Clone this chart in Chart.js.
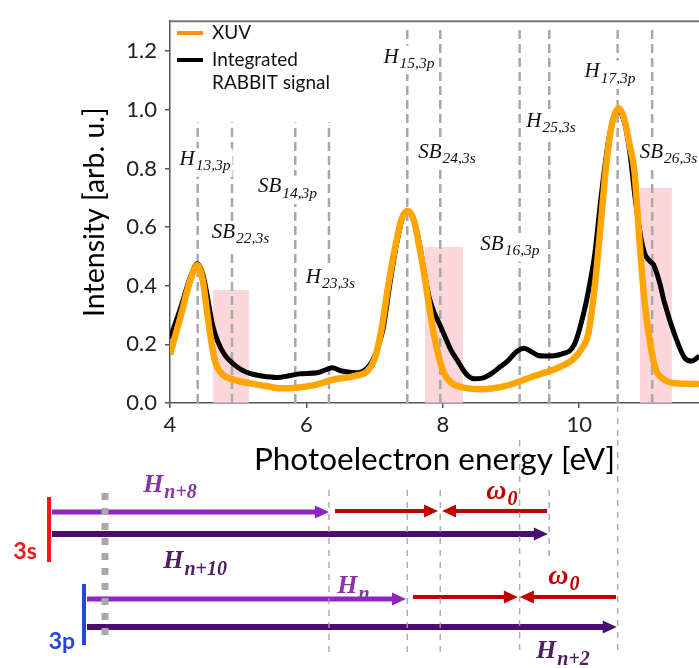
<!DOCTYPE html>
<html>
<head>
<meta charset="utf-8">
<script src="https://cdn.jsdelivr.net/npm/chart.js@4.4.1/dist/chart.umd.min.js"></script>
<style>
  html, body { margin: 0; padding: 0; background: #fff; }
  #wrap { position: relative; width: 699px; height: 668px; }
  #spec { position: absolute; left: 0; top: 0; }
  #scheme { position: absolute; left: 0; top: 440px; }
</style>
</head>
<body>
<div id="wrap">
  <canvas id="spec" width="699" height="482"></canvas>
  <canvas id="scheme" width="699" height="228"></canvas>
</div>
<script>
// ---- spectrum (eV, arb. u.) ----
const xuvEnergy = [4.00, 4.15, 4.30, 4.40, 4.48, 4.55, 4.59, 4.66, 4.74, 4.83, 5.00, 5.18, 5.40, 5.62, 5.85, 6.10, 6.40, 6.70, 6.90,
  7.00, 7.10, 7.20, 7.30, 7.40, 7.49, 7.58, 7.65, 7.72, 7.80, 7.87, 7.95, 8.02, 8.12, 8.26, 8.56, 8.95, 9.29, 9.69, 9.93,
  10.05, 10.13, 10.23, 10.32, 10.40, 10.48, 10.58, 10.66, 10.74, 10.81, 10.88, 10.96, 11.06, 11.13, 11.20, 11.40, 11.76];
const xuvIntensity = [0.165, 0.29, 0.42, 0.47, 0.42, 0.30, 0.233, 0.143, 0.105, 0.088, 0.075, 0.067, 0.058, 0.050, 0.052, 0.060, 0.080, 0.092, 0.110,
  0.15, 0.25, 0.40, 0.53, 0.63, 0.655, 0.62, 0.54, 0.45, 0.33, 0.233, 0.15, 0.10, 0.07, 0.055, 0.047, 0.060, 0.088, 0.120, 0.153,
  0.19, 0.233, 0.40, 0.62, 0.82, 0.95, 1.005, 0.97, 0.88, 0.79, 0.566, 0.343, 0.177, 0.11, 0.088, 0.067, 0.065];

const rabbitEnergy = [4.00, 4.15, 4.30, 4.40, 4.48, 4.55, 4.62, 4.70, 4.80, 4.93, 5.05, 5.18, 5.35, 5.57, 5.75, 5.91, 6.16, 6.30, 6.38,
  6.50, 6.75, 6.94, 7.05, 7.13, 7.22, 7.32, 7.42, 7.49, 7.58, 7.66, 7.74, 7.80, 7.87, 7.95, 8.02, 8.12, 8.22, 8.34, 8.46, 8.58,
  8.71, 8.85, 8.95, 9.08, 9.19, 9.30, 9.40, 9.49, 9.74, 9.93, 10.07, 10.15, 10.23, 10.32, 10.42, 10.50, 10.58, 10.66, 10.74,
  10.82, 10.90, 10.96, 11.03, 11.10, 11.18, 11.25, 11.40, 11.55, 11.65, 11.76];
const rabbitIntensity = [0.22, 0.32, 0.43, 0.475, 0.44, 0.36, 0.27, 0.21, 0.165, 0.133, 0.113, 0.10, 0.092, 0.087, 0.093, 0.10, 0.103, 0.115, 0.12,
  0.11, 0.103, 0.133, 0.19, 0.26, 0.40, 0.54, 0.64, 0.655, 0.62, 0.54, 0.43, 0.36, 0.31, 0.27, 0.233, 0.18, 0.143, 0.10, 0.083, 0.085,
  0.10, 0.125, 0.143, 0.175, 0.187, 0.175, 0.162, 0.16, 0.167, 0.20, 0.31, 0.40, 0.51, 0.70, 0.88, 0.97, 0.995, 0.96, 0.86,
  0.70, 0.57, 0.51, 0.485, 0.467, 0.41, 0.343, 0.233, 0.153, 0.143, 0.16];

// dashed guides at harmonic / sideband energies
const guideEnergy = [4.406, 4.909, 5.837, 6.331, 7.479, 7.963, 9.127, 9.561, 10.564, 11.07];
const guideTop = [0.957, 0.957, 0.957, 0.957, 1.279, 1.279, 1.279, 1.279, 1.279, 1.279];

// shaded sideband windows
const bandStart = [4.631, 7.739, 10.891];
const bandEnd = [5.158, 8.296, 11.36];
const bandHeight = [0.385, 0.532, 0.734];

// peak labels
const peakMain = ['H', 'SB', 'SB', 'H', 'H', 'SB', 'SB', 'H', 'H', 'SB'];
const peakSub = ['13,3p', '22,3s', '14,3p', '23,3s', '15,3p', '24,3s', '16,3p', '25,3s', '17,3p', '26,3s'];
const peakLabelE = [4.513, 5.034, 5.723, 6.353, 7.504, 8.062, 8.985, 9.587, 10.452, 11.309];
const peakLabelY = [0.834, 0.586, 0.741, 0.432, 1.184, 0.860, 0.545, 0.963, 1.133, 0.860];

// ---- scheme below the spectrum ----
const levelName = ['3s', '3p'];
const levelColor = ['#f01818', '#2446dc'];
const levelEnergy = [2.226, 2.739];
const levelTop = [6.84, 3.36];
const levelBottom = [4.24, 0.92];
const levelLabelE = [1.874, 2.416];
const levelLabelY = [4.66, 1.06];

const arrowFrom = [2.27, 2.27, 6.42, 9.528, 2.783, 7.563, 10.54, 2.783];
const arrowTo = [6.14, 9.35, 7.74, 8.18, 7.27, 8.91, 9.32, 10.36];
const arrowRow = [6.24, 5.36, 6.28, 6.28, 2.76, 2.84, 2.84, 1.64];
const arrowKind = ['hl', 'hd', 'ir', 'ir', 'hl', 'ir', 'ir', 'hd'];

const schemeGuideE = [6.331, 7.479, 7.963, 9.127, 9.561, 10.564];
const schemeGuideTop = [7.12, 7.12, 7.12, 9.12, 7.12, 9.12];
const schemeGuideBottom = [0.6, 0.6, 0.6, 0.72, 4.32, 0.72];

const schemeMain = ['H', 'H', 'ω', 'H', 'ω', 'H'];
const schemeSub = ['n+8', 'n+10', '0', 'n', '0', 'n+2'];
const schemeLabelE = [4.0, 4.367, 8.868, 6.69, 9.777, 9.762];
const schemeLabelY = [7.38, 4.32, 7.02, 3.32, 3.62, 0.72];
const schemeLabelKind = ['hl', 'hd', 'ir', 'hl', 'ir', 'hd'];

const kindColor = { hl: '#8c25c4', hd: '#4c0c72', ir: '#c00000' };
const kindWidth = { hl: 5, hd: 6, ir: 4 };
const labelColor = { hl: '#8a35a6', hd: '#4e2163', ir: '#c00000' };

const X_MIN = 4, X_MAX = 11.757, PLOT_LEFT = 170, W = 699;

function pts(xs, ys) { return xs.map((x, i) => ({ x, y: ys[i] })); }

function drawSubLabel(ctx, main, sub, cx, cy, size, subSize, style, color, bg) {
  const mf = style + ' ' + size + 'px "Liberation Serif"';
  const sf = style + ' ' + subSize + 'px "Liberation Serif"';
  ctx.save();
  ctx.font = mf; const w1 = ctx.measureText(main).width;
  ctx.font = sf; const w2 = ctx.measureText(sub).width;
  const x0 = cx - (w1 + w2 + 1) / 2;
  const lower = main === main.toLowerCase();
  const base = cy + size * (lower ? 0.22 : 0.32);
  if (bg) {
    ctx.fillStyle = '#fff';
    ctx.fillRect(x0 - 2, base - size * 0.8, w1 + w2 + 5, size * 0.8 + subSize * 0.75);
  }
  ctx.fillStyle = color;
  ctx.textBaseline = 'alphabetic';
  ctx.textAlign = 'left';
  ctx.font = mf; ctx.fillText(main, x0, base);
  ctx.font = sf; ctx.fillText(sub, x0 + w1 + 1, base + subSize * 0.33);
  ctx.restore();
}

const specDecor = {
  id: 'specDecor',
  afterDatasetsDraw(chart) {
    const { ctx, chartArea: a, scales: { x, y } } = chart;
    ctx.save();
    // top spine
    ctx.strokeStyle = '#777'; ctx.lineWidth = 2;
    ctx.beginPath(); ctx.moveTo(a.left, a.top); ctx.lineTo(a.right, a.top); ctx.stroke();
    // H17 guide keeps going down to the scheme
    ctx.strokeStyle = '#b0b0b0'; ctx.lineWidth = 1.5; ctx.setLineDash([6, 6]);
    const px = x.getPixelForValue(10.564);
    ctx.beginPath(); ctx.moveTo(px, a.bottom + 3); ctx.lineTo(px, 440); ctx.stroke();
    ctx.setLineDash([]);
    // legend
    const lx = a.left + 7;
    ctx.lineWidth = 4;
    ctx.strokeStyle = '#ff8c1a';
    ctx.beginPath(); ctx.moveTo(lx, 33); ctx.lineTo(lx + 26, 33); ctx.stroke();
    ctx.strokeStyle = '#000';
    ctx.beginPath(); ctx.moveTo(lx, 60); ctx.lineTo(lx + 26, 60); ctx.stroke();
    ctx.fillStyle = '#111';
    ctx.font = '19px Lato';
    ctx.textBaseline = 'middle';
    ctx.fillText('XUV', lx + 35, 33);
    ctx.fillText('Integrated', lx + 35, 60);
    ctx.fillText('RABBIT signal', lx + 35, 83);
    ctx.restore();
    // peak labels
    peakMain.forEach((m, i) => {
      drawSubLabel(ctx, m, peakSub[i], x.getPixelForValue(peakLabelE[i]), y.getPixelForValue(peakLabelY[i]),
        21, 15.5, 'italic', '#111', true);
    });
  }
};

const specDatasets = [
  { data: pts(xuvEnergy, xuvIntensity), borderColor: '#ffa500', borderWidth: 6.5, order: 0,
    pointRadius: 0, cubicInterpolationMode: 'monotone' },
  { data: pts(rabbitEnergy, rabbitIntensity), borderColor: '#000', borderWidth: 5, order: 1,
    pointRadius: 0, cubicInterpolationMode: 'monotone' }
];
guideEnergy.forEach((e, i) => {
  specDatasets.push({ data: [{ x: e, y: 0 }, { x: e, y: guideTop[i] }], borderColor: '#a8a8a8',
    borderWidth: 2.5, borderDash: [9, 5], pointRadius: 0, order: 2 });
});
bandStart.forEach((s, i) => {
  specDatasets.push({ data: [{ x: s, y: bandHeight[i] }, { x: bandEnd[i], y: bandHeight[i] }], borderWidth: 0,
    backgroundColor: 'rgba(250, 200, 206, 0.75)', fill: 'origin', pointRadius: 0, order: 3 });
});

new Chart(document.getElementById('spec'), {
  type: 'line',
  data: { datasets: specDatasets },
  plugins: [specDecor],
  options: {
    responsive: false,
    animation: false,
    layout: { padding: { left: 76, top: 11, right: 0, bottom: 0 } },
    plugins: { legend: { display: false }, tooltip: { enabled: false } },
    scales: {
      x: {
        type: 'linear', min: X_MIN, max: X_MAX,
        afterFit: s => { s.height = 79; },
        ticks: { stepSize: 2, includeBounds: false, maxRotation: 0, padding: 4, color: '#222',
          font: { family: 'Lato', size: 22 } },
        grid: { drawOnChartArea: false, tickLength: 5, color: '#555', lineWidth: 1.5 },
        border: { color: '#555', width: 1.5 },
        title: { display: true, text: 'Photoelectron energy [eV]', color: '#000',
          font: { family: 'Lato', size: 31.5 }, padding: { top: 0, bottom: 3 } }
      },
      y: {
        type: 'linear', min: 0, max: 1.302,
        afterFit: s => { s.width = 94; },
        ticks: { stepSize: 0.2, includeBounds: false, padding: 8, color: '#222',
          font: { family: 'Lato', size: 22 }, callback: v => v.toFixed(1) },
        grid: { drawOnChartArea: false, tickLength: 5, color: '#555', lineWidth: 1.5 },
        border: { color: '#555', width: 1.5 },
        title: { display: true, text: 'Intensity [arb. u.]', color: '#000',
          font: { family: 'Lato', size: 28.5 }, padding: { top: 2, bottom: 0 } }
      }
    }
  }
});

// ---- scheme ----
const schemeDecor = {
  id: 'schemeDecor',
  afterDatasetsDraw(chart) {
    const { ctx, scales: { x, y } } = chart;
    // arrow heads
    chart.data.datasets.forEach((ds, i) => {
      if (!ds.arrow) return;
      const p = chart.getDatasetMeta(i).data;
      const a = p[p.length - 2], b = p[p.length - 1];
      const dir = b.x > a.x ? 1 : -1;
      const len = 13, half = 6.5;
      ctx.save();
      ctx.fillStyle = ds.borderColor;
      ctx.beginPath();
      ctx.moveTo(b.x - dir * 1, b.y - half);
      ctx.lineTo(b.x + dir * len, b.y);
      ctx.lineTo(b.x - dir * 1, b.y + half);
      ctx.closePath(); ctx.fill();
      ctx.restore();
    });
    // labels
    schemeMain.forEach((m, i) => {
      const k = schemeLabelKind[i];
      drawSubLabel(ctx, m, schemeSub[i], x.getPixelForValue(schemeLabelE[i]), y.getPixelForValue(schemeLabelY[i]),
        k === 'ir' ? 28 : 26, 20, 'italic bold', labelColor[k], false);
    });
    ctx.save();
    ctx.font = 'bold 23px Lato';
    ctx.textAlign = 'center';
    ctx.textBaseline = 'middle';
    levelName.forEach((n, i) => {
      ctx.fillStyle = levelColor[i];
      ctx.fillText(n, x.getPixelForValue(levelLabelE[i]), y.getPixelForValue(levelLabelY[i]));
    });
    ctx.restore();
  }
};

const schemeDatasets = [];
arrowFrom.forEach((f, i) => {
  const k = arrowKind[i];
  schemeDatasets.push({ data: [{ x: f, y: arrowRow[i] }, { x: arrowTo[i], y: arrowRow[i] }], arrow: true,
    borderColor: kindColor[k], borderWidth: kindWidth[k], pointRadius: 0, order: 2 });
});
levelEnergy.forEach((e, i) => {
  schemeDatasets.push({ data: [{ x: e, y: levelTop[i] }, { x: e, y: levelBottom[i] }],
    borderColor: levelColor[i], borderWidth: 4, pointRadius: 0, order: 2 });
});
schemeGuideE.forEach((e, i) => {
  schemeDatasets.push({ data: [{ x: e, y: schemeGuideTop[i] }, { x: e, y: schemeGuideBottom[i] }],
    borderColor: 'rgba(160,160,160,0.85)', borderWidth: 1.5, borderDash: [6, 6], pointRadius: 0, order: 1 });
});
// threshold marker (gray dotted)
schemeDatasets.push({ data: [{ x: 3.047, y: 7.0 }, { x: 3.047, y: 1.0 }], borderColor: '#a9a9a9',
  borderWidth: 7, borderDash: [7, 8], pointRadius: 0, order: 0 });

const schemeMin = X_MIN - PLOT_LEFT * (X_MAX - X_MIN) / (W - PLOT_LEFT);

new Chart(document.getElementById('scheme'), {
  type: 'line',
  data: { datasets: schemeDatasets },
  plugins: [schemeDecor],
  options: {
    responsive: false,
    animation: false,
    clip: false,
    layout: { padding: 0 },
    plugins: { legend: { display: false }, tooltip: { enabled: false } },
    scales: {
      x: { type: 'linear', display: false, min: schemeMin, max: X_MAX },
      y: { type: 'linear', display: false, min: 0, max: 9.12 }
    }
  }
});
</script>
</body>
</html>
